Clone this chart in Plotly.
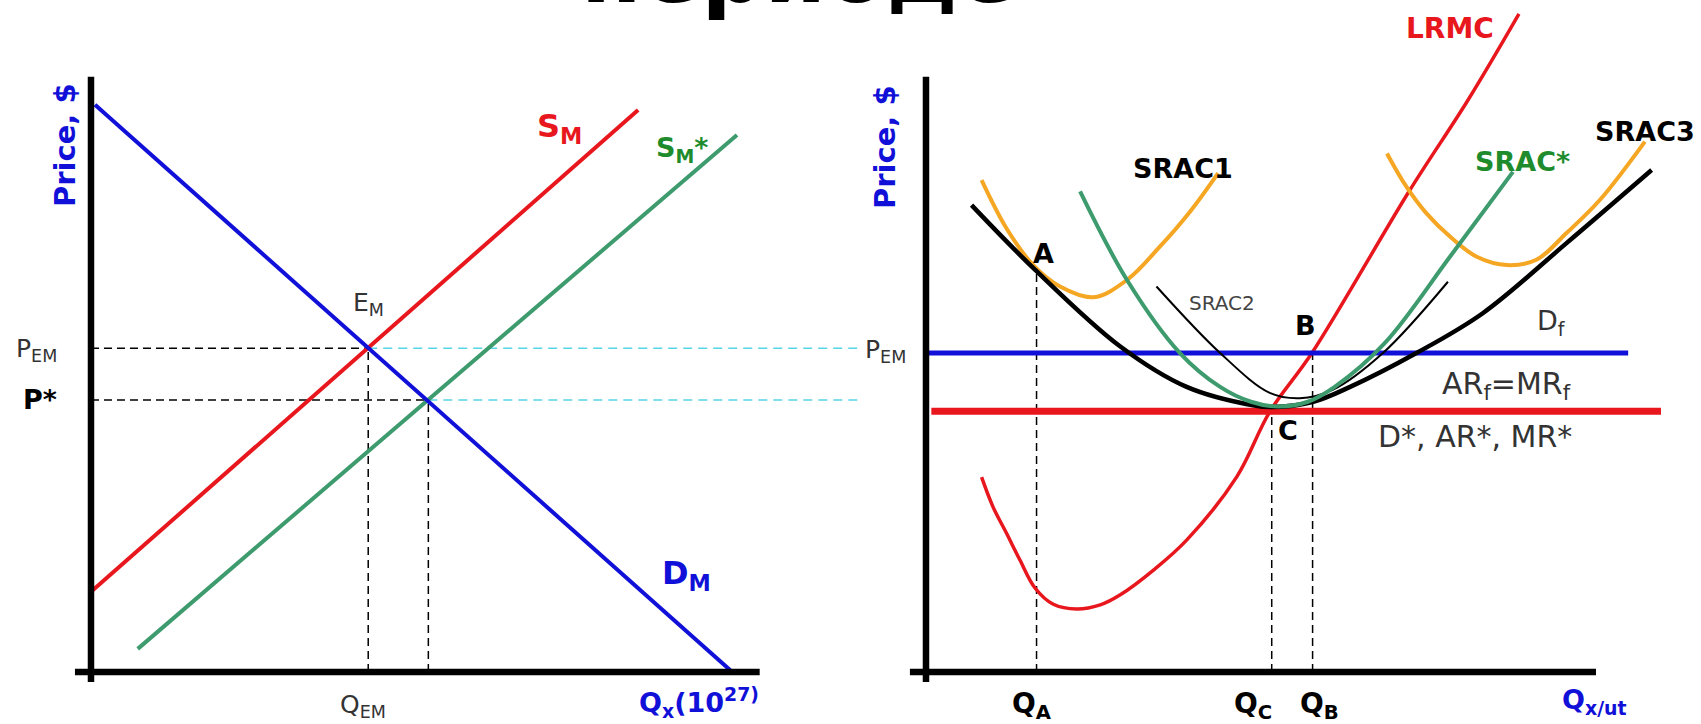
import plotly.graph_objects as go

# ---------- left panel: market ----------
dm_q = [0.6, 95.7]
dm_p = [95.5, 0.3]
sm_q = [0.0, 81.9]
sm_p = [13.5, 94.6]
sms_q = [7.0, 96.7]
sms_p = [3.9, 90.4]
q_em, p_em = 41.5, 54.5
q_star, p_star = 50.5, 45.8
cyan_end = 114.7

# ---------- right panel: firm ----------
lrmc_q = [8.3, 10.0, 12.0, 14.0, 16.3, 19.0, 22.5, 26.0, 29.0, 34.0, 38.9, 46.4, 51.3, 57.6, 72.2, 80.9, 88.5]
lrmc_p = [32.8, 27.8, 23.4, 18.9, 14.1, 11.4, 10.6, 11.3, 13.0, 17.2, 22.2, 32.9, 43.8, 53.7, 81.1, 96.3, 110.8]
lrac_q = [6.8, 16.3, 29.0, 38.9, 48.8, 51.6, 57.8, 63.3, 73.2, 83.1, 95.6, 108.3]
lrac_p = [78.6, 67.7, 54.8, 48.0, 44.9, 44.6, 45.5, 48.0, 53.7, 60.4, 72.2, 84.5]
srac1_q = [8.3, 12.0, 16.0, 20.0, 25.0, 30.0, 34.9, 39.4, 43.6]
srac1_p = [82.8, 74.7, 68.5, 64.9, 63.1, 66.0, 71.6, 77.5, 84.0]
srac2_q = [34.4, 43.9, 51.3, 55.8, 60.7, 68.2, 77.9]
srac2_p = [64.9, 53.7, 47.0, 46.1, 47.5, 53.7, 65.7]
sracs_q = [23.0, 30.0, 37.9, 43.9, 48.5, 52.5, 57.0, 61.0, 68.5, 78.2, 87.6]
sracs_p = [80.9, 66.0, 53.7, 48.0, 45.5, 44.7, 45.5, 48.0, 55.4, 69.9, 84.2]
srac3_q = [68.8, 71.7, 74.7, 78.2, 82.2, 86.7, 91.1, 95.6, 100.6, 107.3]
srac3_p = [87.3, 81.7, 77.2, 73.3, 69.9, 68.5, 69.4, 73.9, 79.5, 89.3]
df_q = [0.1, 104.8]
df_p = 53.7
dstar_q = [0.8, 109.7]
dstar_p = 43.9
q_a, p_a = 16.5, 67.7
q_b, p_b = 57.7, 53.7
q_c, p_c = 51.6, 43.9

RED = "#e8161d"
BLUE = "#1010d8"
GREEN = "#3d9b6e"
GREEN_TXT = "#1e8c2d"
ORANGE = "#f5a623"
CYAN = "#55d6e6"
FONT = "DejaVu Sans"

fig = go.Figure()


def line(x, y, color, width, xa="x", ya="y", dash=None, shape="linear"):
    fig.add_trace(go.Scatter(x=x, y=y, mode="lines", xaxis=xa, yaxis=ya,
                             line=dict(color=color, width=width, dash=dash, shape=shape, smoothing=1),
                             hoverinfo="skip", showlegend=False))


# left panel
line([q_em, cyan_end], [p_em, p_em], CYAN, 1.5, dash="9px,6px")
line([q_star, cyan_end], [p_star, p_star], CYAN, 1.5, dash="9px,6px")
line([0, q_em], [p_em, p_em], "black", 1.5, dash="8px,5px")
line([0, q_star], [p_star, p_star], "black", 1.5, dash="8px,5px")
line([q_em, q_em], [0, p_em], "black", 1.5, dash="8px,5px")
line([q_star, q_star], [0, p_star], "black", 1.5, dash="8px,5px")
line(sm_q, sm_p, RED, 4)
line(sms_q, sms_p, GREEN, 4)
line(dm_q, dm_p, BLUE, 4)
line([0, 0], [-1.7, 100.2], "black", 6.5)
line([-2.4, 100.1], [0, 0], "black", 6.5)

# right panel
r = dict(xa="x2", ya="y2")
line([q_a, q_a], [0, p_a], "black", 1.5, dash="8px,5px", **r)
line([q_c, q_c], [0, p_c], "black", 1.5, dash="8px,5px", **r)
line([q_b, q_b], [0, p_b], "black", 1.5, dash="8px,5px", **r)
line(lrmc_q, lrmc_p, RED, 3.5, shape="spline", **r)
line(dstar_q, [dstar_p, dstar_p], RED, 7, **r)
line(df_q, [df_p, df_p], BLUE, 5, **r)
line(srac1_q, srac1_p, ORANGE, 4, shape="spline", **r)
line(srac3_q, srac3_p, ORANGE, 4, shape="spline", **r)
line(lrac_q, lrac_p, "black", 4.5, shape="spline", **r)
line(srac2_q, srac2_p, "black", 2, shape="spline", **r)
line(sracs_q, sracs_p, GREEN, 4, shape="spline", **r)
line([0, 0], [-1.7, 100.2], "black", 6.5, **r)
line([-2.4, 100], [0, 0], "black", 6.5, **r)

ann = []


def label(text, x, y, size, color="black", bold=False, xref="x", yref="y", angle=0):
    if bold:
        text = "<b>" + text + "</b>"
    ann.append(dict(text=text, x=x, y=y, xref=xref, yref=yref, showarrow=False,
                    textangle=angle, font=dict(family=FONT, size=size, color=color)))


GRAY = "#333333"
# left labels
label("Price, $", -3.9, 88.7, 29, BLUE, True, angle=-90)
label("P<sub>EM</sub>", -8.1, 54.2, 25, GRAY)
label("P*", -7.6, 45.8, 27, "black", True)
label("E<sub>M</sub>", 41.6, 61.9, 25, GRAY)
label("S<sub>M</sub>", 70.2, 91.6, 32, RED, True)
label("S<sub>M</sub>*", 88.4, 87.9, 27, GREEN_TXT, True)
label("D<sub>M</sub>", 89.2, 16.3, 32, BLUE, True)
label("Q<sub>EM</sub>", 40.7, -5.8, 25, GRAY)
label("Q<sub>x</sub>(10<sup>27)</sup>", 91.0, -5.2, 27, BLUE, True)

# right labels
rr = dict(xref="x2", yref="y2")
label("Price, $", -6.1, 88.4, 29, BLUE, True, angle=-90, **rr)
label("P<sub>EM</sub>", -6.1, 54.0, 25, GRAY, **rr)
label("P*", -7.6, 48.3, 27, "black", True, **rr)
label("LRMC", 78.2, 108.4, 28, RED, True, **rr)
label("SRAC3", 107.3, 91.0, 27, "black", True, **rr)
label("SRAC*", 89.1, 85.9, 27, GREEN_TXT, True, **rr)
label("SRAC1", 38.4, 84.8, 27, "black", True, **rr)
label("SRAC2", 44.2, 62.1, 20, "#444444", **rr)
label("A", 17.5, 70.5, 27, "black", True, **rr)
label("B", 56.6, 58.4, 27, "black", True, **rr)
label("C", 54.0, 40.7, 27, "black", True, **rr)
label("D<sub>f</sub>", 93.4, 58.8, 27, GRAY, **rr)
label("AR<sub>f</sub>=MR<sub>f</sub>", 86.7, 48.3, 30, GRAY, **rr)
label("D*, AR*, MR*", 81.9, 39.7, 30, GRAY, **rr)
label("Q<sub>A</sub>", 15.8, -5.6, 28, "black", True, **rr)
label("Q<sub>C</sub>", 48.8, -5.6, 28, "black", True, **rr)
label("Q<sub>B</sub>", 58.8, -5.6, 28, "black", True, **rr)
label("Q<sub>x/ut</sub>", 99.7, -5.0, 27, BLUE, True, **rr)

# cut-off slide heading
ann.append(dict(text="<b>периоде</b>", x=0.470, y=0.966, xref="paper", yref="paper",
                yanchor="bottom", showarrow=False, font=dict(family=FONT, size=88, color="black")))

fig.update_layout(
    width=1701, height=724, autosize=False,
    margin=dict(l=0, r=0, t=0, b=0),
    plot_bgcolor="white", paper_bgcolor="white",
    xaxis=dict(domain=[0, 0.51], range=[-13.62, 116.24], visible=False),
    yaxis=dict(domain=[0, 1], range=[-8.75, 113.13], visible=False),
    xaxis2=dict(domain=[0.52, 1], range=[-6.19, 115.67], visible=False),
    yaxis2=dict(domain=[0, 1], range=[-8.75, 113.13], visible=False, anchor="x2"),
    annotations=ann,
)

fig.write_html("out.html", config={"displayModeBar": False},
               post_script="document.body.style.margin='0px';")
